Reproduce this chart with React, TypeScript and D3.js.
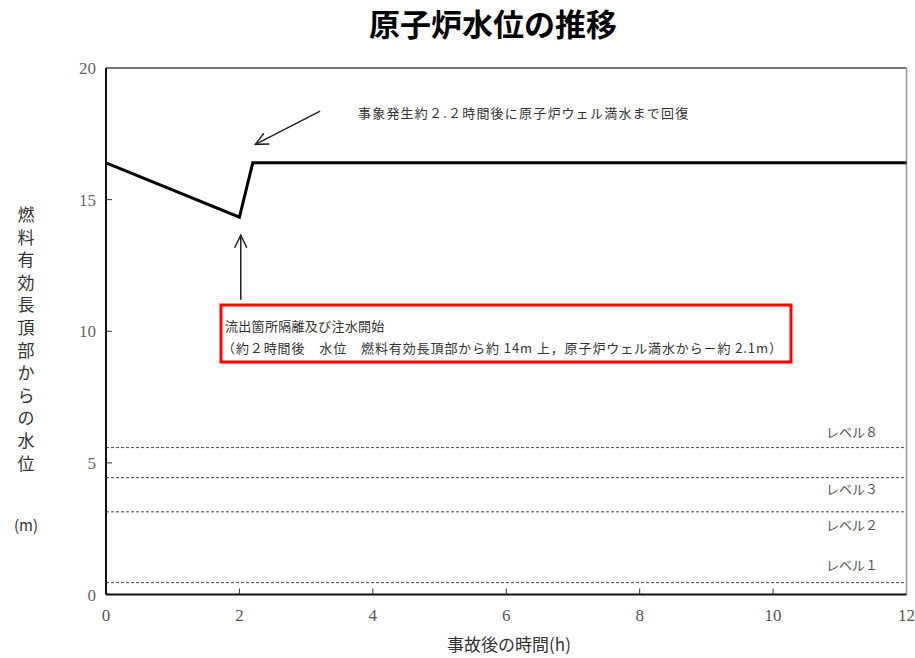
import React from "react";
import * as d3 from "d3";

const title = "原子炉水位の推移";
const xLabel = "事故後の時間(h)";
const yLabelChars = ["燃", "料", "有", "効", "長", "頂", "部", "か", "ら", "の", "水", "位"];
const yUnit = "(m)";
const xTicks = [0, 2, 4, 6, 8, 10, 12];
const yTicks = [0, 5, 10, 15, 20];
const lineTimes = [0, 2.0, 2.2, 12];
const lineLevels = [16.4, 14.33, 16.4, 16.4];
const refNames = ["レベル８", "レベル３", "レベル２", "レベル１"];
const refValues = [5.58, 4.44, 3.14, 0.45];
const noteTop = "事象発生約２.２時間後に原子炉ウェル満水まで回復";
const noteBox1 = "流出箇所隔離及び注水開始";
const noteBox2 = "（約２時間後　水位　燃料有効長頂部から約 14m 上，原子炉ウェル満水から－約 2.1m）";

export default function App() {
  const W = 915, H = 658;
  const left = 106, right = 906.5, top = 68, bottom = 594.5;
  const x = d3.scaleLinear().domain([0, 12]).range([left, right]);
  const y = d3.scaleLinear().domain([0, 20]).range([bottom, top]);
  const line = d3.line<number>().x((_, i) => x(lineTimes[i])).y((d) => y(d));
  const numFont = "'Liberation Serif', 'DejaVu Serif', serif";
  const jpFont = "'Noto Sans CJK JP', sans-serif";
  const labelYOffsets = [-16, 11, 13, -18];

  const arrow = (x1: number, y1: number, x2: number, y2: number, key: string) => {
    const ang = Math.atan2(y2 - y1, x2 - x1);
    const len = 14, spread = 0.45;
    const a1x = x2 - len * Math.cos(ang - spread), a1y = y2 - len * Math.sin(ang - spread);
    const a2x = x2 - len * Math.cos(ang + spread), a2y = y2 - len * Math.sin(ang + spread);
    return (
      <g key={key} stroke="#222" strokeWidth={1.5} fill="none">
        <line x1={x1} y1={y1} x2={x2} y2={y2} />
        <polyline points={`${a1x},${a1y} ${x2},${y2} ${a2x},${a2y}`} />
      </g>
    );
  };

  return (
    <svg width={W} height={H} style={{ display: "block", position: "absolute", left: 0, top: 0, background: "#fff" }}>
      <rect x={0} y={0} width={W} height={H} fill="#fff" />
      <text x={493} y={36} textAnchor="middle" fontFamily={jpFont} fontWeight={700} fontSize={31} fill="#000">{title}</text>

      {/* reference dashed lines */}
      {refValues.map((v, i) => (
        <line key={"r" + i} x1={left} x2={right} y1={y(v)} y2={y(v)} stroke="#444" strokeWidth={1} strokeDasharray="3,2" />
      ))}
      {refValues.map((v, i) => (
        <text key={"rl" + i} x={878} y={y(v) + labelYOffsets[i] + 5} textAnchor="end" fontFamily={jpFont} fontSize={13} fill="#555">{refNames[i]}</text>
      ))}

      {/* frame */}
      <line x1={left} x2={right} y1={top} y2={top} stroke="#444" strokeWidth={1.5} />
      <line x1={right} x2={right} y1={top} y2={bottom} stroke="#999" strokeWidth={1.5} />
      <line x1={left} x2={left} y1={top} y2={bottom} stroke="#111" strokeWidth={2} />
      <line x1={left} x2={right} y1={bottom} y2={bottom} stroke="#111" strokeWidth={2} />

      {/* ticks */}
      {yTicks.slice(1, -1).map((t) => (
        <line key={"yt" + t} x1={left} x2={left + 6} y1={y(t)} y2={y(t)} stroke="#333" strokeWidth={1} />
      ))}
      {xTicks.slice(1, -1).map((t) => (
        <line key={"xt" + t} x1={x(t)} x2={x(t)} y1={bottom} y2={bottom - 6} stroke="#333" strokeWidth={1} />
      ))}
      {yTicks.map((t) => (
        <text key={"yl" + t} x={96} y={y(t) + 6} textAnchor="end" fontFamily={numFont} fontSize={17} fill="#666">{t}</text>
      ))}
      {xTicks.map((t) => (
        <text key={"xl" + t} x={x(t)} y={621} textAnchor="middle" fontFamily={numFont} fontSize={17} fill="#555">{t}</text>
      ))}

      {/* axis titles */}
      <text x={509} y={651} textAnchor="middle" fontFamily={jpFont} fontSize={17} fill="#333">{xLabel}</text>
      {yLabelChars.map((c, i) => (
        <text key={"yc" + i} x={26} y={221 + i * 22.6} textAnchor="middle" fontFamily={jpFont} fontSize={17} fill="#333">{c}</text>
      ))}
      <text x={26} y={531} textAnchor="middle" fontFamily={jpFont} fontSize={15} fill="#333">{yUnit}</text>

      {/* data line */}
      <path d={line(lineLevels) || ""} fill="none" stroke="#000" strokeWidth={3} strokeLinejoin="miter" />

      {/* annotations */}
      {arrow(x(3.21), y(18.36), x(2.24), y(17.1), "a1")}
      {arrow(x(2.02), y(11.2), x(2.02), y(13.65), "a2")}
      <text x={358} y={118} fontFamily={jpFont} fontSize={13} letterSpacing={1.2} fill="#333">{noteTop}</text>
      <rect x={221} y={305} width={570} height={57} fill="none" stroke="#f00" strokeWidth={3} />
      <text x={225} y={331} fontFamily={jpFont} fontSize={13} letterSpacing={0.3} fill="#333">{noteBox1}</text>
      <text x={222} y={353} fontFamily={jpFont} fontSize={13} letterSpacing={0.9} fill="#333">{noteBox2}</text>
    </svg>
  );
}
